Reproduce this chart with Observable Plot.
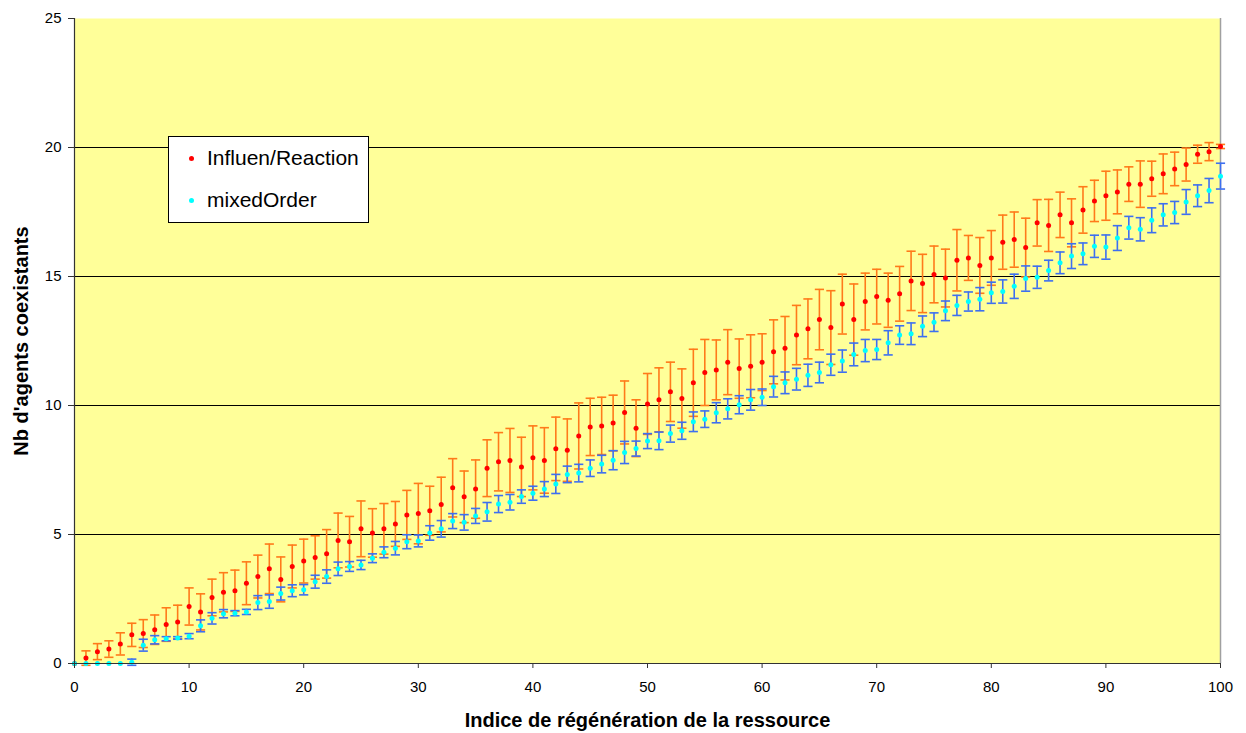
<!DOCTYPE html>
<html>
<head>
<meta charset="utf-8">
<script src="https://cdn.jsdelivr.net/npm/d3@7"></script>
<script src="https://cdn.jsdelivr.net/npm/@observablehq/plot@0.6"></script>
<style>
  body { margin: 0; background: white; font-family: "Liberation Sans", Arial, sans-serif; }
  #wrap { position: relative; width: 1246px; height: 733px; }
  #legend { position: absolute; left: 168px; top: 136px; width: 199px; height: 85px;
    background: white; border: 1px solid black; font-size: 21px; color: black; }
  .item { position: absolute; left: 0; display: flex; align-items: center; }
  .sw { width: 5px; height: 5px; border-radius: 50%; margin-left: 20px; margin-right: 13px; }
</style>
</head>
<body>
<div id="wrap"></div>
<script>
const xLabel = "Indice de régénération de la ressource";
const yLabel = "Nb d'agents coexistants";
const seriesNames = ["Influen/Reaction", "mixedOrder"];
const seriesColors = ["#ff0000", "#00ffff"];
const barColors = ["#ff7a1a", "#3d6ff0"];
const xTicks = [0, 10, 20, 30, 40, 50, 60, 70, 80, 90, 100];
const yTicks = [0, 5, 10, 15, 20, 25];
const yGrid = [5, 10, 15, 20];
const xValues = d3.range(0, 101);

const redMean = [0, .21, .46, .56, .76, 1.11, 1.16, 1.31, 1.51, 1.61,
2.21, 2.0, 2.56, 2.76, 2.82, 3.11, 3.37, 3.67, 3.26, 3.76,
3.97, 4.11, 4.25, 4.77, 4.72, 5.22, 5.06, 5.22, 5.41, 5.76,
5.81, 5.92, 6.16, 6.81, 6.46, 6.76, 7.57, 7.82, 7.87, 7.62,
7.97, 7.87, 8.32, 8.27, 8.82, 9.17, 9.21, 9.32, 9.73, 9.12,
10.06, 10.22, 10.53, 10.27, 10.88, 11.28, 11.38, 11.68, 11.43, 11.52,
11.68, 12.08, 12.22, 12.73, 12.97, 13.33, 13.02, 13.93, 13.33, 14.03,
14.22, 14.08, 14.33, 14.83, 14.73, 15.08, 14.94, 15.63, 15.72, 15.43,
15.72, 16.33, 16.43, 16.12, 17.08, 16.98, 17.39, 17.08, 17.58, 17.93,
18.13, 18.28, 18.58, 18.58, 18.79, 18.98, 19.17, 19.34, 19.74, 19.84,
20.04];

const redErr = [0, .28, .31, .32, .43, .45, .54, .57, .65, .65,
.72, .70, .71, .76, .80, .83, .83, .96, .87, .83,
.85, .84, .94, 1.06, .98, 1.08, .94, .98, .87, .95,
1.17, .95, 1.06, 1.13, 1.0, 1.13, 1.1, 1.13, 1.24, 1.15,
1.24, 1.27, 1.23, 1.21, 1.28, 1.11, 1.11, 1.08, 1.22, 1.1,
1.18, 1.24, 1.15, 1.15, 1.3, 1.28, 1.16, 1.26, 1.15, 1.22,
1.1, 1.24, 1.23, 1.15, 1.16, 1.17, 1.43, 1.16, 1.38, 1.1,
1.06, 1.05, 1.06, 1.15, 1.13, 1.1, 1.12, 1.19, .87, 1.08,
1.06, 1.05, 1.07, 1.14, .9, 1.01, .88, .93, .9, .8,
.95, .85, .67, .9, .68, .77, .65, .64, .35, .35,
.08];

const cyanMean = [0, 0, 0, 0, 0, .05, .71, .92, .96, .99,
1.06, 1.46, 1.75, 1.93, 1.95, 2.0, 2.36, 2.40, 2.71, 2.82,
2.86, 3.17, 3.37, 3.67, 3.76, 3.82, 4.08, 4.31, 4.47, 4.72,
4.75, 5.06, 5.22, 5.52, 5.47, 5.72, 5.88, 6.18, 6.25, 6.47,
6.60, 6.76, 6.96, 7.33, 7.38, 7.57, 7.73, 7.88, 8.18, 8.33,
8.62, 8.63, 8.91, 9.02, 9.37, 9.47, 9.72, 9.87, 10.03, 10.22,
10.32, 10.73, 10.88, 11.02, 11.17, 11.28, 11.58, 11.72, 11.98, 12.13,
12.17, 12.43, 12.73, 12.78, 13.07, 13.23, 13.67, 13.88, 14.03, 14.12,
14.37, 14.42, 14.62, 14.92, 14.97, 15.23, 15.53, 15.79, 15.88, 16.17,
16.14, 16.49, 16.89, 16.83, 17.18, 17.39, 17.48, 17.89, 18.13, 18.33,
18.89];

const cyanErr = [0, 0, 0, 0, 0, .12, .23, .16, .08, .05,
.1, .23, .22, .16, .1, .1, .27, .26, .25, .23,
.2, .25, .26, .26, .19, .18, .17, .21, .26, .27,
.23, .28, .32, .29, .3, .29, .36, .33, .3, .26,
.27, .29, .37, .32, .34, .32, .34, .37, .43, .29,
.29, .34, .33, .33, .38, .32, .39, .39, .35, .4,
.32, .4, .42, .42, .43, .4, .41, .43, .44, .43,
.39, .47, .36, .42, .4, .36, .38, .39, .37, .45,
.41, .45, .47, .49, .43, .4, .42, .48, .42, .43,
.47, .48, .44, .45, .48, .43, .43, .48, .42, .47,
.5];

function table(means, errs) {
  return xValues.map((x, i) => ({x, y: means[i], lo: means[i] - errs[i], hi: means[i] + errs[i], e: errs[i]}));
}
const red = table(redMean, redErr);
const cyan = table(cyanMean, cyanErr);
const capHalf = 0.4;

function bars(data, color) {
  const d = data.filter(v => v.e > 0);
  const opts = {stroke: color, strokeWidth: 1.6};
  return [
    Plot.ruleX(d, {x: "x", y1: "lo", y2: "hi", ...opts}),
    Plot.link(d, {x1: v => v.x - capHalf, x2: v => v.x + capHalf, y1: "hi", y2: "hi", ...opts}),
    Plot.link(d, {x1: v => v.x - capHalf, x2: v => v.x + capHalf, y1: "lo", y2: "lo", ...opts})
  ];
}

const chart = Plot.plot({
  width: 1246,
  height: 733,
  marginLeft: 74,
  marginRight: 26,
  marginTop: 18,
  marginBottom: 70,
  style: {fontFamily: "'Liberation Sans', Arial, sans-serif", fontSize: "15px", background: "white", color: "black", overflow: "visible"},
  x: {domain: [0, 100], label: null},
  y: {domain: [0, 25], label: null},
  marks: [
    Plot.frame({fill: "#ffff99", stroke: "none"}),
    Plot.ruleY(yGrid, {stroke: "black", strokeWidth: 1}),
    Plot.ruleX([100], {stroke: "#a0a0a0", strokeWidth: 1.5}),
    ...bars(red, barColors[0]),
    ...bars(cyan, barColors[1]),
    Plot.dot(red, {x: "x", y: "y", r: 2.5, fill: seriesColors[0], stroke: "none"}),
    Plot.dot(cyan, {x: "x", y: "y", r: 2.5, fill: seriesColors[1], stroke: "none"}),
    Plot.ruleX([0], {stroke: "#333", strokeWidth: 1.2}),
    Plot.ruleY([0], {stroke: "#333", strokeWidth: 1.2}),
    Plot.axisX(xTicks, {tickSize: 5, tickPadding: 13, fontSize: 15, stroke: "#333", label: null}),
    Plot.axisY(yTicks, {tickSize: 6, tickPadding: 7, fontSize: 15, stroke: "#333", label: null}),
    Plot.text([xLabel], {text: d => d, frameAnchor: "bottom", dy: 57, lineAnchor: "middle", textAnchor: "middle", fontWeight: "bold", fontSize: 20}),
    Plot.text([yLabel], {text: d => d, frameAnchor: "left", dx: -53, rotate: -90, lineAnchor: "middle", textAnchor: "middle", fontWeight: "bold", fontSize: 20})
  ]
});

const wrap = document.getElementById("wrap");
wrap.appendChild(chart);

const legend = document.createElement("div");
legend.id = "legend";
seriesNames.forEach((name, i) => {
  const item = document.createElement("div");
  item.className = "item";
  item.style.top = (i === 0 ? 9 : 51) + "px";
  const sw = document.createElement("span");
  sw.className = "sw";
  sw.style.background = seriesColors[i];
  const t = document.createElement("span");
  t.textContent = name;
  item.appendChild(sw);
  item.appendChild(t);
  legend.appendChild(item);
});
wrap.appendChild(legend);
</script>
</body>
</html>
